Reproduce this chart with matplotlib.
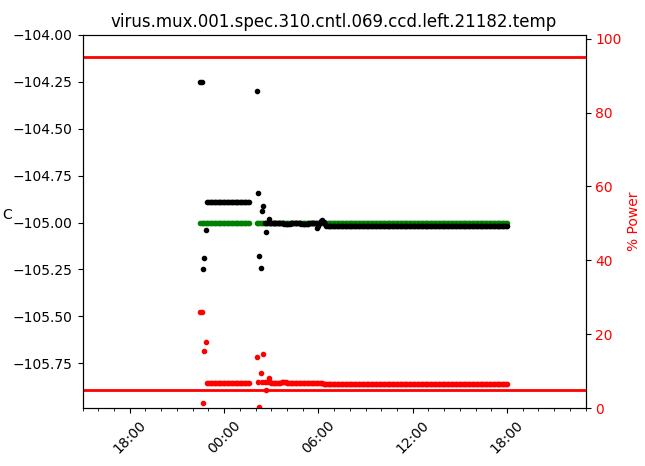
import numpy as np
import pandas as pd
import matplotlib
matplotlib.use('Agg')
import matplotlib.pyplot as plt
import matplotlib.dates as mdates

title = 'virus.mux.001.spec.310.cntl.069.ccd.left.21182.temp'

# Samples every 5 minutes, two stretches with a gap around 01:40-02:00
seg1_start = '2024-01-01 22:30'
seg2_start = '2024-01-02 02:05'

# temperature (C), written as (value, count) runs
temp1_runs = [(-104.25, 2), (-105.25, 1), (-105.19, 1), (-105.04, 1), (-104.89, 33)]
temp2_runs = [(-104.30, 1), (-104.84, 1), (-105.18, 1), (-105.24, 1), (-104.94, 1),
              (-104.91, 1), (-105.00, 1), (-105.05, 1), (-105.00, 1), (-104.98, 1),
              (-105.00, 1),
              (-105.005, 10), (-105.01, 5), (-105.00, 8), (-105.01, 6), (-105.005, 6),
              (-105.03, 1), (-105.02, 1), (-105.00, 1), (-104.99, 1), (-104.985, 1),
              (-104.995, 1), (-105.01, 1),
              (-105.02, 139)]

# setpoint (C)
set1_runs = [(-105.0, 38)]
set2_runs = [(-105.0, 192)]

# heater power (%)
power1_runs = [(26.1, 2), (1.3, 1), (15.5, 1), (17.9, 1), (6.7, 33)]
power2_runs = [(13.8, 1), (7.0, 1), (0.2, 1), (9.4, 1), (7.0, 1), (14.6, 1),
               (7.0, 1), (4.9, 1), (7.0, 1), (8.3, 1), (7.1, 1),
               (6.8, 8), (7.0, 4), (6.7, 8), (6.9, 6), (6.7, 8), (6.9, 6),
               (6.5, 141)]

power_limits = [5, 95]


def expand(runs):
    vals = [v for v, n in runs]
    counts = [n for v, n in runs]
    return np.repeat(vals, counts)


def times(start, n):
    return pd.date_range(start, periods=n, freq='5min')


temp = np.concatenate([expand(temp1_runs), expand(temp2_runs)])
setp = np.concatenate([expand(set1_runs), expand(set2_runs)])
power = np.concatenate([expand(power1_runs), expand(power2_runs)])
t = times(seg1_start, 38).append(times(seg2_start, 192))

fig, ax = plt.subplots(figsize=(6.45, 4.66), dpi=100)
fig.subplots_adjust(left=0.128, right=0.908, top=0.925, bottom=0.124)

ax.plot(t, setp, '.', color='green')
ax.plot(t, temp, '.', color='black')
ax.set_ylim(-105.99, -104.0)
ax.set_ylabel('C', rotation=0)
ax.set_title(title)

ax2 = ax.twinx()
ax2.plot(t, power, '.', color='red')
for lim in power_limits:
    ax2.axhline(lim, color='red', lw=2)
ax2.set_ylim(0, 101)
ax2.set_ylabel('% Power', color='red')
ax2.tick_params(axis='y', labelcolor='red')

ax.set_xlim(pd.Timestamp('2024-01-01 15:00'), pd.Timestamp('2024-01-02 23:00'))
ax.xaxis.set_major_locator(mdates.HourLocator(byhour=[0, 6, 12, 18]))
ax.xaxis.set_minor_locator(mdates.HourLocator())
ax.xaxis.set_major_formatter(mdates.DateFormatter('%H:%M'))
ax.tick_params(axis='x', labelrotation=45)

fig.savefig('out.png', dpi=100)
